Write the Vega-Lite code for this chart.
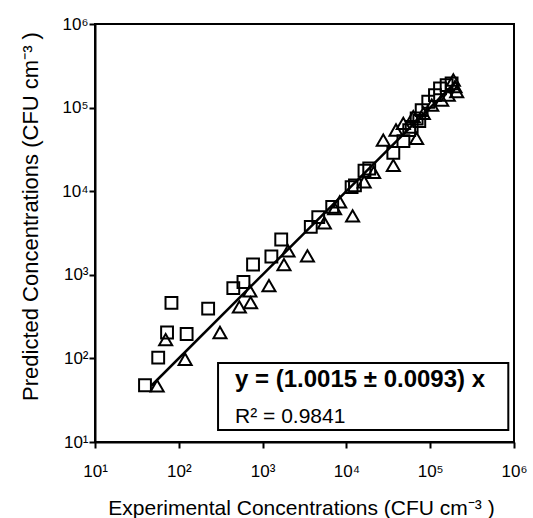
{
  "$schema": "https://vega.github.io/schema/vega-lite/v6.json",
  "width": 419,
  "height": 418,
  "autosize": {"type": "none"},
  "padding": {"left": 95, "top": 24, "right": 19, "bottom": 76},
  "background": "white",
  "config": {
    "view": {"stroke": "black", "strokeWidth": 2},
    "font": "Liberation Sans",
    "axis": {
      "domainColor": "black", "domainWidth": 2, "tickColor": "black", "tickWidth": 2, "tickSize": 6,
      "grid": false, "labelFont": "Liberation Sans", "labelFontSize": 17, "labelColor": "black",
      "titleFont": "Liberation Sans", "titleFontSize": 21, "titleFontWeight": "normal", "titleColor": "black"
    }
  },
  "datasets": {
    "pts": [
      {"series": "square", "x": 39.5, "y": 47.7},
      {"series": "square", "x": 56.8, "y": 102},
      {"series": "square", "x": 81.7, "y": 461},
      {"series": "square", "x": 72.4, "y": 204},
      {"series": "square", "x": 124, "y": 196},
      {"series": "square", "x": 224, "y": 394},
      {"series": "square", "x": 447, "y": 692},
      {"series": "square", "x": 591, "y": 820},
      {"series": "square", "x": 769, "y": 1327},
      {"series": "square", "x": 1273, "y": 1656},
      {"series": "square", "x": 1668, "y": 2642},
      {"series": "square", "x": 3758, "y": 3750},
      {"series": "square", "x": 4614, "y": 4897},
      {"series": "square", "x": 6770, "y": 6504},
      {"series": "square", "x": 11535, "y": 11190},
      {"series": "square", "x": 12650, "y": 11720},
      {"series": "square", "x": 16440, "y": 17550},
      {"series": "square", "x": 18720, "y": 18700},
      {"series": "square", "x": 36300, "y": 28800},
      {"series": "square", "x": 47900, "y": 39800},
      {"series": "square", "x": 56200, "y": 53700},
      {"series": "square", "x": 60100, "y": 58900},
      {"series": "square", "x": 68900, "y": 74100},
      {"series": "square", "x": 74100, "y": 69200},
      {"series": "square", "x": 79100, "y": 93300},
      {"series": "square", "x": 94800, "y": 117500},
      {"series": "square", "x": 114000, "y": 141000},
      {"series": "square", "x": 131000, "y": 170000},
      {"series": "square", "x": 157000, "y": 186000},
      {"series": "square", "x": 180000, "y": 195000},
      {"series": "triangle", "x": 55.2, "y": 46.8},
      {"series": "triangle", "x": 69.7, "y": 168},
      {"series": "triangle", "x": 119, "y": 97.7},
      {"series": "triangle", "x": 310, "y": 204},
      {"series": "triangle", "x": 528, "y": 413},
      {"series": "triangle", "x": 719, "y": 466},
      {"series": "triangle", "x": 706, "y": 643},
      {"series": "triangle", "x": 1191, "y": 743},
      {"series": "triangle", "x": 1799, "y": 1327},
      {"series": "triangle", "x": 2010, "y": 1936},
      {"series": "triangle", "x": 3428, "y": 1687},
      {"series": "triangle", "x": 5458, "y": 4188},
      {"series": "triangle", "x": 7228, "y": 6209},
      {"series": "triangle", "x": 8318, "y": 7464},
      {"series": "triangle", "x": 11858, "y": 5082},
      {"series": "triangle", "x": 16293, "y": 12972},
      {"series": "triangle", "x": 21135, "y": 16749},
      {"series": "triangle", "x": 27540, "y": 40930},
      {"series": "triangle", "x": 36300, "y": 20400},
      {"series": "triangle", "x": 39080, "y": 53950},
      {"series": "triangle", "x": 68870, "y": 42950},
      {"series": "triangle", "x": 47750, "y": 64860},
      {"series": "triangle", "x": 62810, "y": 77800},
      {"series": "triangle", "x": 82800, "y": 85500},
      {"series": "triangle", "x": 104300, "y": 107200},
      {"series": "triangle", "x": 137100, "y": 123000},
      {"series": "triangle", "x": 164400, "y": 141300},
      {"series": "triangle", "x": 197700, "y": 177800},
      {"series": "triangle", "x": 207000, "y": 154900},
      {"series": "triangle", "x": 188800, "y": 213800}
    ],
    "fit": [
      {"x": 47, "y": 47.07},
      {"x": 200000, "y": 200300}
    ],
    "box": [
      {"x": 294, "x2": 855000, "y": 13.9, "y2": 88}
    ],
    "eq": [{"x": 469, "y": 55.2, "label": "y = (1.0015 ± 0.0093) x"}],
    "r2": [{"x": 469, "y": 20.1, "label": "R² = 0.9841"}]
  },
  "layer": [
    {
      "data": {"name": "box"},
      "mark": {"type": "rect", "fill": "white", "stroke": "black", "strokeWidth": 2},
      "encoding": {
        "x": {"field": "x", "type": "quantitative", "scale": {"type": "log", "domain": [10, 1000000], "nice": false},
          "axis": {"title": "Experimental Concentrations (CFU cm⁻³ )", "values": [10, 100, 1000, 10000, 100000, 1000000],
            "labelExpr": "'10' + ['¹','²','³','⁴','⁵','⁶'][round(log(datum.value)/LN10)-1]",
            "labelFontSize": 17, "labelPadding": 15, "titleX": 206, "titleY": 72, "titleBaseline": "alphabetic", "titleAlign": "center", "labelFlush": false}},
        "x2": {"field": "x2"},
        "y": {"field": "y", "type": "quantitative", "scale": {"type": "log", "domain": [10, 1000000], "nice": false},
          "axis": {"title": "Predicted Concentrations (CFU cm⁻³ )", "values": [10, 100, 1000, 10000, 100000, 1000000],
            "labelExpr": "'10' + ['¹','²','³','⁴','⁵','⁶'][round(log(datum.value)/LN10)-1]",
            "labelFontSize": 17, "labelPadding": 1, "titleFontSize": 22, "titleX": -58, "titleY": 192, "titleAngle": -90, "titleBaseline": "alphabetic", "titleAlign": "center", "labelFlush": false}},
        "y2": {"field": "y2"}
      }
    },
    {
      "data": {"name": "fit"},
      "mark": {"type": "line", "color": "black", "strokeWidth": 2.5},
      "encoding": {
        "x": {"field": "x", "type": "quantitative"},
        "y": {"field": "y", "type": "quantitative"}
      }
    },
    {
      "data": {"name": "pts"},
      "mark": {"type": "point", "filled": false, "stroke": "black", "strokeWidth": 2, "opacity": 1},
      "encoding": {
        "x": {"field": "x", "type": "quantitative"},
        "y": {"field": "y", "type": "quantitative"},
        "shape": {"field": "series", "type": "nominal", "scale": {"domain": ["square", "triangle"], "range": ["square", "triangle-up"]}, "legend": null},
        "size": {"field": "series", "type": "nominal", "scale": {"domain": ["square", "triangle"], "range": [140, 170]}, "legend": null}
      }
    },
    {
      "data": {"name": "eq"},
      "mark": {"type": "text", "align": "left", "baseline": "middle", "fontSize": 24, "fontWeight": "bold", "font": "Liberation Sans", "color": "black"},
      "encoding": {
        "x": {"field": "x", "type": "quantitative"},
        "y": {"field": "y", "type": "quantitative"},
        "text": {"field": "label"}
      }
    },
    {
      "data": {"name": "r2"},
      "mark": {"type": "text", "align": "left", "baseline": "middle", "fontSize": 21, "font": "Liberation Sans", "color": "black"},
      "encoding": {
        "x": {"field": "x", "type": "quantitative"},
        "y": {"field": "y", "type": "quantitative"},
        "text": {"field": "label"}
      }
    }
  ]
}
